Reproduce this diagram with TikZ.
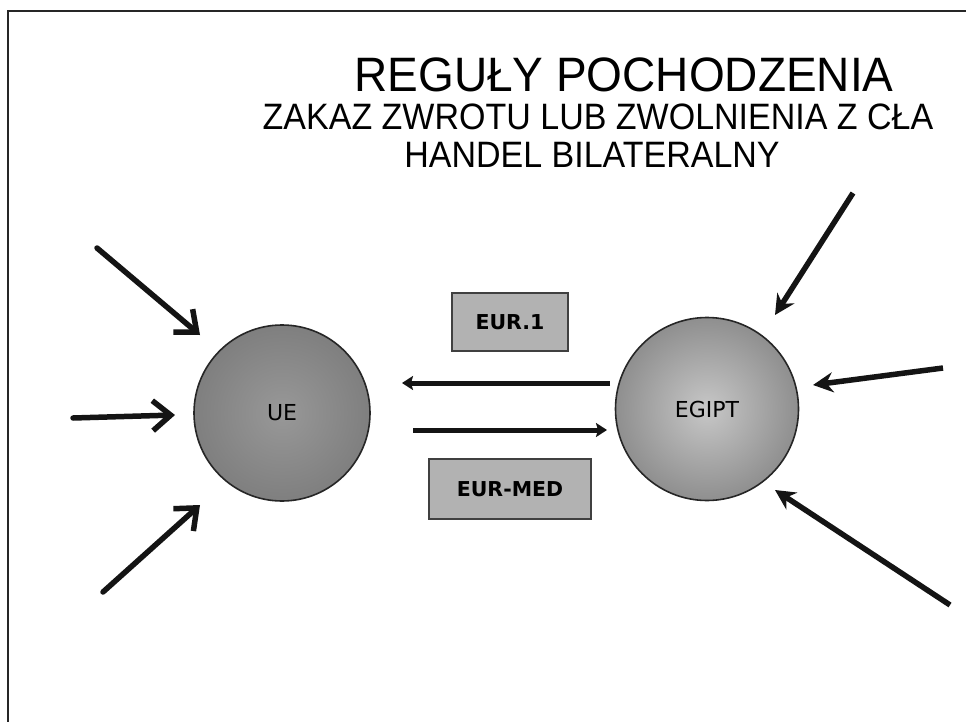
\documentclass[tikz,border=0pt]{standalone}
\usepackage{fontspec}
\setmainfont{Liberation Sans}
\newfontfamily\lblfont{DejaVu Sans}
\usetikzlibrary{arrows.meta}
\definecolor{boxgray}{HTML}{B2B2B2}
\definecolor{uegray}{HTML}{8A8A8A}
\tikzset{
  frame/.style={line width=2pt, black!85},
  titleA/.style={anchor=base, font=\fontsize{46}{50}\selectfont, inner sep=0pt, yscale=1.05},
  titleB/.style={anchor=base, font=\fontsize{34}{38}\selectfont, inner sep=0pt, yscale=1.08},
  country/.style={circle, draw=black!85, line width=1.6pt, font=\lblfont\fontsize{22}{24}\selectfont},
  certbox/.style={rectangle, draw=black!75, line width=1.6pt, fill=boxgray, font=\lblfont\bfseries\fontsize{20.5}{22}\selectfont},
  inarrowL/.style={line width=5.5pt, black!92, line cap=round, -{Straight Barb[length=18pt, width=30pt, line width=5.5pt]}},
  inarrowR/.style={line width=5.5pt, black!92, -{Stealth[length=20pt, width=20pt]}},
  flow/.style={line width=5pt, black!92, -{Stealth[length=11pt, width=14pt, inset=2pt]}}
}
\begin{document}
\begin{tikzpicture}[x=1pt, y=-1pt]
\useasboundingbox (0,0) rectangle (966,722);
\fill[white] (0,0) rectangle (966,722);
% frame (top and left edges)
\coordinate (fTL) at (8,11);
\coordinate (fTR) at (966,11);
\coordinate (fBL) at (8,722);
\draw[frame] (fTR) -- (fTL) -- (fBL);
% title
\node[titleA] (t1) at (624,92) {REGUŁY POCHODZENIA};
\node[titleB] (t2) at (598,130) {ZAKAZ ZWROTU LUB ZWOLNIENIA Z CŁA};
\node[titleB] (t3) at (592,168) {HANDEL BILATERALNY};
% countries
\node[country, minimum size=176pt, shading=radial, inner color=uegray!88!white, outer color=uegray!92!black] (ue) at (282,413) {UE};
\node[country, minimum size=183pt, shading=radial, inner color=black!22, outer color=black!44] (eg) at (707,409) {EGIPT};
% certificates
\node[certbox, minimum width=116pt, minimum height=58pt] (eur1) at (510,322) {EUR.1};
\node[certbox, minimum width=162pt, minimum height=60pt] (eurmed) at (510,489) {EUR-MED};
% central flows
\coordinate (f1s) at (610,383);
\coordinate (f1e) at (402,383);
\coordinate (f2s) at (413,430);
\coordinate (f2e) at (607,430);
\draw[flow] (f1s) -- (f1e);
\draw[flow] (f2s) -- (f2e);
% incoming arrows to UE
\coordinate (l1s) at (97,248);  \coordinate (l1e) at (200,335);
\coordinate (l2s) at (73,418);  \coordinate (l2e) at (175,415);
\coordinate (l3s) at (103,592); \coordinate (l3e) at (200,505);
\draw[inarrowL] (l1s) -- (l1e);
\draw[inarrowL] (l2s) -- (l2e);
\draw[inarrowL] (l3s) -- (l3e);
% incoming arrows to EGIPT
\coordinate (r1s) at (853,193); \coordinate (r1e) at (775,315);
\coordinate (r2s) at (943,368); \coordinate (r2e) at (813,385);
\coordinate (r3s) at (950,605); \coordinate (r3e) at (775,490);
\draw[inarrowR] (r1s) -- (r1e);
\draw[inarrowR] (r2s) -- (r2e);
\draw[inarrowR] (r3s) -- (r3e);
\end{tikzpicture}
\end{document}
